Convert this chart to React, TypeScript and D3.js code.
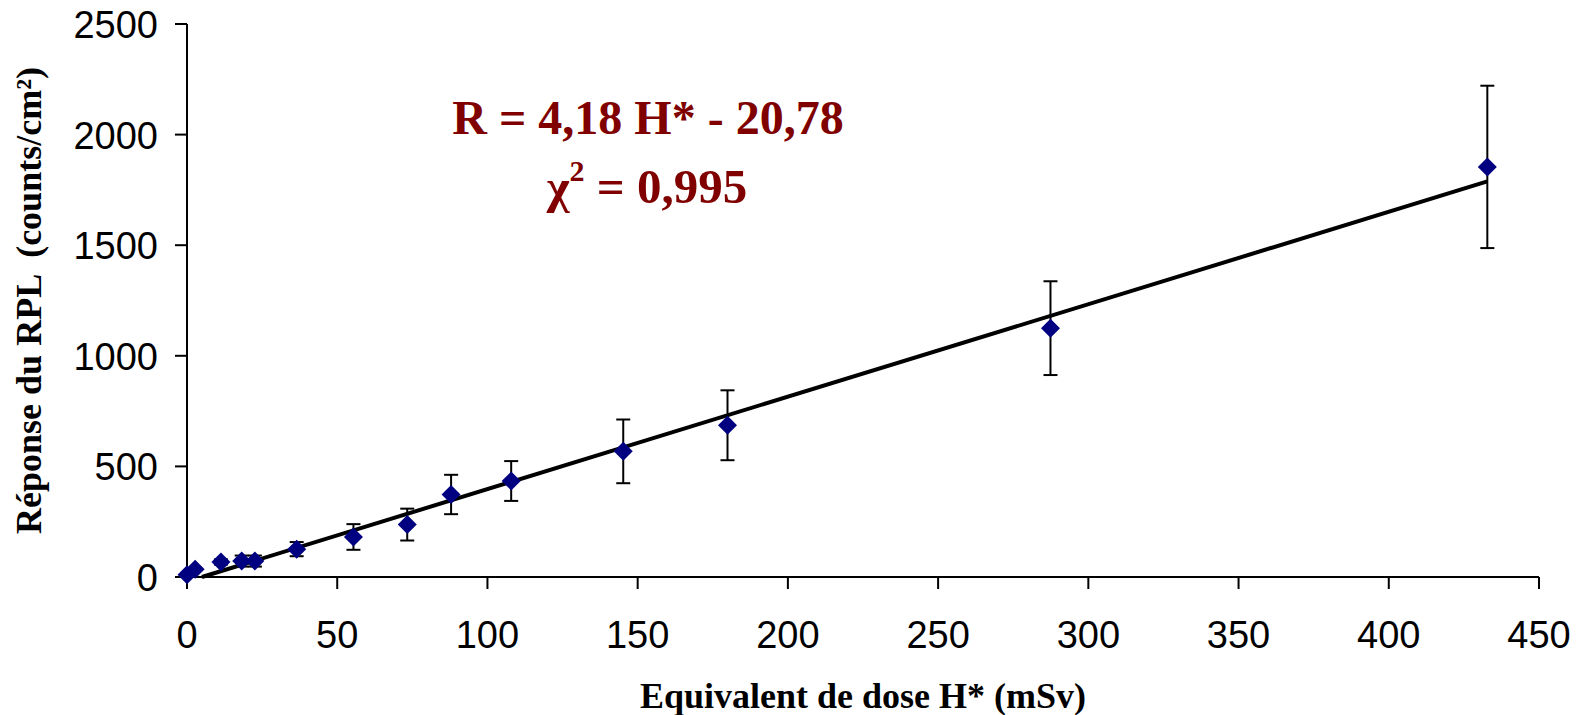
import * as d3 from 'd3'

// dose points (mSv), RPL response (counts/cm²) and error bar half-heights
const doses = [0, 2.7, 11.3, 18.2, 22.6, 36.5, 55.4, 73.3, 87.9, 107.9, 145.2, 179.9, 287.4, 432.8]
const responses = [10, 35, 68, 72, 72, 126, 181, 237, 373, 434, 568, 686, 1125, 1854]
const errors = [3, 6, 12, 25, 25, 32, 58, 72, 89, 90, 144, 158, 212, 367]

// linear fit shown on the chart
const fitSlope = 4.18
const fitIntercept = -20.78
const fitRange = [4.97, 432.8]

const xTicks = [0, 50, 100, 150, 200, 250, 300, 350, 400, 450]
const yTicks = [0, 500, 1000, 1500, 2000, 2500]

const W = 1582
const H = 715
const pad = { l: 187, r: 43, t: 24, b: 138 }

export default function App() {
  const x = d3.scaleLinear().domain([0, 450]).range([pad.l, W - pad.r])
  const y = d3.scaleLinear().domain([0, 2500]).range([H - pad.b, pad.t])

  const fitLine = d3.line<number>()
    .x(d => x(d))
    .y(d => y(fitSlope * d + fitIntercept))

  const pts = doses.map((d, i) => ({ x: d, y: responses[i], e: errors[i] }))
  const diamond = 9.5
  const cap = 7
  const serif = "'Liberation Serif', 'Times New Roman', serif"
  const sans = "'Liberation Sans', Arial, sans-serif"

  return (
    <div style={{ position: 'absolute', left: 0, top: 0 }}>
      <svg width={W} height={H} style={{ display: 'block', background: '#fff' }}>
        {/* axes */}
        <line x1={x(0)} x2={x(450)} y1={y(0)} y2={y(0)} stroke="#000" strokeWidth={2} />
        <line x1={x(0)} x2={x(0)} y1={y(0)} y2={y(2500)} stroke="#000" strokeWidth={2} />
        {xTicks.map(t => (
          <g key={'x' + t}>
            <line x1={x(t)} x2={x(t)} y1={y(0)} y2={y(0) + 12} stroke="#000" strokeWidth={2} />
            <text x={x(t)} y={y(0) + 71} textAnchor="middle" fontSize={38} fontFamily={sans} fill="#000">{t}</text>
          </g>
        ))}
        {yTicks.map(t => (
          <g key={'y' + t}>
            <line x1={x(0) - 12} x2={x(0)} y1={y(t)} y2={y(t)} stroke="#000" strokeWidth={2} />
            <text x={x(0) - 29} y={y(t) + 14} textAnchor="end" fontSize={38} fontFamily={sans} fill="#000">{t}</text>
          </g>
        ))}

        {/* fit line */}
        <path d={fitLine(fitRange) || ''} fill="none" stroke="#000" strokeWidth={4} />

        {/* error bars */}
        {pts.map((p, i) => (
          <g key={'e' + i} stroke="#000" strokeWidth={2}>
            <line x1={x(p.x)} x2={x(p.x)} y1={y(p.y + p.e)} y2={y(p.y - p.e)} />
            <line x1={x(p.x) - cap} x2={x(p.x) + cap} y1={y(p.y + p.e)} y2={y(p.y + p.e)} />
            <line x1={x(p.x) - cap} x2={x(p.x) + cap} y1={y(p.y - p.e)} y2={y(p.y - p.e)} />
          </g>
        ))}

        {/* markers */}
        {pts.map((p, i) => {
          const cx = x(p.x), cy = y(p.y)
          return (
            <path key={'m' + i} fill="#000080"
              d={`M${cx},${cy - diamond}L${cx + diamond},${cy}L${cx},${cy + diamond}L${cx - diamond},${cy}Z`} />
          )
        })}

        {/* equation */}
        <text x={648} y={134} textAnchor="middle" fontSize={48} fontWeight="bold" fontFamily={serif} fill="#800000">
          R = 4,18 H* - 20,78
        </text>
        <text x={647} y={203} textAnchor="middle" fontSize={49} fontWeight="bold" fontFamily={serif} fill="#800000">
          χ<tspan fontSize={30} dy={-22}>2</tspan><tspan dy={22}> = 0,995</tspan>
        </text>

        {/* axis titles */}
        <text x={(x(0) + x(450)) / 2} y={708} textAnchor="middle" fontSize={36} fontWeight="bold"
          fontFamily={serif} fill="#000">
          Equivalent de dose H* (mSv)
        </text>
        <text transform={`translate(41,${(y(0) + y(2500)) / 2}) rotate(-90)`} textAnchor="middle"
          fontSize={36} fontWeight="bold" fontFamily={serif} fill="#000" style={{ whiteSpace: 'pre' }}>
          {'Réponse du RPL  (counts/cm²)'}
        </text>
      </svg>
    </div>
  )
}
